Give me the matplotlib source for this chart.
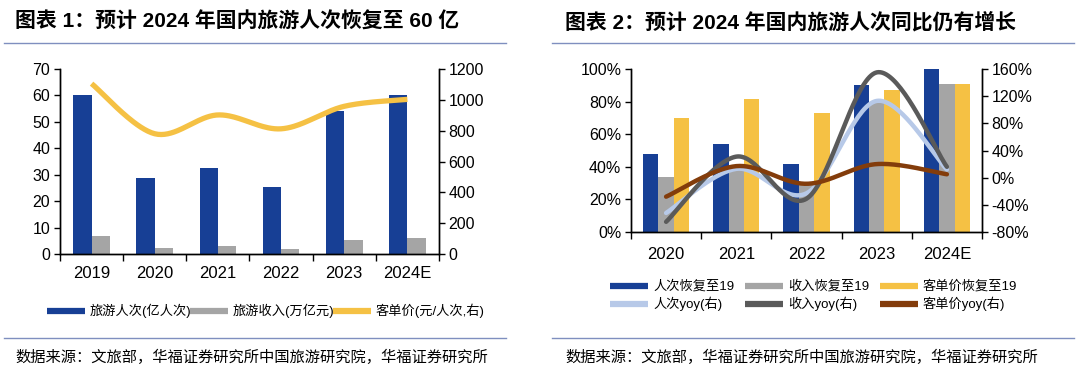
import numpy as np
import matplotlib
matplotlib.use("Agg")
import matplotlib.pyplot as plt
from matplotlib.lines import Line2D

plt.rcParams['font.family'] = ['Liberation Sans', 'Noto Sans CJK SC', 'DejaVu Sans']

# ---------------- data ----------------
years1 = ["2019", "2020", "2021", "2022", "2023", "2024E"]
trips = [60.1, 28.8, 32.5, 25.3, 54.1, 60.1]          # 旅游人次(亿人次)
revenue = [6.7, 2.2, 2.9, 2.0, 5.3, 6.0]               # 旅游收入(万亿元)
spend = [1105, 780, 902, 812, 958, 1003]               # 客单价(元/人次)

years2 = ["2020", "2021", "2022", "2023", "2024E"]
trips_rec = [48, 54, 42, 90, 100]        # 人次恢复至19 (%)
rev_rec = [33.5, 40, 30, 79, 90.5]       # 收入恢复至19 (%)
spend_rec = [70, 81.5, 73, 87, 90.5]     # 客单价恢复至19 (%)
trips_yoy = [-52, 13, -23, 113, 12]      # 人次yoy (%)
rev_yoy = [-65, 31, -31, 155, 16]        # 收入yoy (%)
spend_yoy = [-28, 17, -9, 20, 5]         # 客单价yoy (%)

BLUE = "#173F95"
GRAY = "#A5A5A5"
YELLOW = "#F5C144"
LBLUE = "#B7C9E8"
DGRAY = "#5A5A5A"
BROWN = "#833C0B"
RULE = "#7F8FBF"


def smooth(x, y, n=40):
    """Catmull-Rom spline through points (like Excel smoothed line)."""
    x = np.asarray(x, float)
    y = np.asarray(y, float)
    px = np.concatenate([[x[0]], x, [x[-1]]])
    py = np.concatenate([[y[0]], y, [y[-1]]])
    xs, ys = [], []
    for i in range(1, len(px) - 2):
        p0, p1, p2, p3 = px[i - 1], px[i], px[i + 1], px[i + 2]
        q0, q1, q2, q3 = py[i - 1], py[i], py[i + 1], py[i + 2]
        c1x, c1y = p1 + (p2 - p0) / 6, q1 + (q2 - q0) / 6
        c2x, c2y = p2 - (p3 - p1) / 6, q2 - (q3 - q1) / 6
        t = np.linspace(0, 1, n)
        b0 = (1 - t) ** 3
        b1 = 3 * (1 - t) ** 2 * t
        b2 = 3 * (1 - t) * t ** 2
        b3 = t ** 3
        xs.append(b0 * p1 + b1 * c1x + b2 * c2x + b3 * p2)
        ys.append(b0 * q1 + b1 * c1y + b2 * c2y + b3 * q2)
    return np.concatenate(xs), np.concatenate(ys)


W, H = 1080, 377
fig = plt.figure(figsize=(10.8, 3.77), dpi=100)


def fx(px):
    return px / W


def fy(py):
    return 1 - py / H


def style_axes(ax, ax2, xpad=8):
    ax.spines['top'].set_visible(False)
    ax2.spines['top'].set_visible(False)
    for a in (ax, ax2):
        for s in a.spines.values():
            s.set_linewidth(1.0)
            s.set_color('black')
    ax.tick_params(axis='y', direction='out', length=4, width=1, labelsize=11.5, pad=3)
    ax2.tick_params(axis='y', direction='out', length=4, width=1, labelsize=11.5, pad=3)
    ax.tick_params(axis='x', which='major', length=0, labelsize=12, pad=xpad)
    ax.tick_params(axis='x', which='minor', direction='out', length=5, width=1)


# ---------------- chart 1 ----------------
fig.text(fx(15), fy(22), "图表 1：预计 2024 年国内旅游人次恢复至 60 亿", fontsize=15,
         fontweight='bold', va='center', ha='left')
fig.add_artist(Line2D([fx(4), fx(506)], [fy(43), fy(43)], color=RULE, lw=1))

ax1 = fig.add_axes([fx(60), fy(254), fx(379), (254 - 69) / H])
x1 = np.arange(len(years1))
bw = 0.29
ax1.bar(x1 - bw / 2, trips, width=bw, color=BLUE, zorder=2)
ax1.bar(x1 + bw / 2, revenue, width=bw, color=GRAY, zorder=2)
ax1.set_ylim(0, 70)
ax1.set_yticks(range(0, 71, 10))
ax1.set_xlim(-0.5, len(years1) - 0.5)
ax1.set_xticks(x1)
ax1.set_xticklabels(years1)
ax1.set_xticks(np.arange(-0.5, len(years1), 1), minor=True)
ax1b = ax1.twinx()
sx, sy = smooth(x1, spend)
ax1b.plot(sx, sy, color=YELLOW, lw=3.8, solid_capstyle='butt', zorder=3)
ax1b.set_ylim(0, 1200)
ax1b.set_yticks(range(0, 1201, 200))
style_axes(ax1, ax1b, xpad=9)

# legend 1
leg1 = [(47, BLUE, "旅游人次(亿人次)"), (190, GRAY, "旅游收入(万亿元)"),
        (333, YELLOW, "客单价(元/人次,右)")]
for x0, c, lab in leg1:
    fig.add_artist(Line2D([fx(x0), fx(x0 + 38)], [fy(311), fy(311)], color=c, lw=4.5,
                          solid_capstyle='butt'))
    fig.text(fx(x0 + 43), fy(311), lab, fontsize=9.5, va='center', ha='left')

fig.add_artist(Line2D([fx(4), fx(506)], [fy(338), fy(338)], color=RULE, lw=1))
fig.text(fx(15), fy(357), "数据来源：文旅部，华福证券研究所中国旅游研究院，华福证券研究所",
         fontsize=11, va='center', ha='left', family=['Noto Sans CJK SC'])

# ---------------- chart 2 ----------------
fig.text(fx(565), fy(22), "图表 2：预计 2024 年国内旅游人次同比仍有增长", fontsize=15,
         fontweight='bold', va='center', ha='left')
fig.add_artist(Line2D([fx(552), fx(1074)], [fy(43), fy(43)], color=RULE, lw=1))

ax2 = fig.add_axes([fx(631), fy(232), fx(351), (232 - 69) / H])
x2 = np.arange(len(years2))
bw2 = 0.22
ax2.bar(x2 - bw2, trips_rec, width=bw2, color=BLUE, zorder=2)
ax2.bar(x2, rev_rec, width=bw2, color=GRAY, zorder=2)
ax2.bar(x2 + bw2, spend_rec, width=bw2, color=YELLOW, zorder=2)
ax2.set_ylim(0, 100)
ax2.set_yticks(range(0, 101, 20))
ax2.set_yticklabels([f"{v}%" for v in range(0, 101, 20)])
ax2.set_xlim(-0.5, len(years2) - 0.5)
ax2.set_xticks(x2)
ax2.set_xticklabels(years2)
ax2.set_xticks(np.arange(-0.5, len(years2), 1), minor=True)
ax2b = ax2.twinx()
for vals, c in ((trips_yoy, LBLUE), (rev_yoy, DGRAY), (spend_yoy, BROWN)):
    sx, sy = smooth(x2, vals)
    ax2b.plot(sx, sy, color=c, lw=3.2, solid_capstyle='round', zorder=3)
ax2b.set_ylim(-80, 160)
ax2b.set_yticks(range(-80, 161, 40))
ax2b.set_yticklabels([f"{v}%" for v in range(-80, 161, 40)])
style_axes(ax2, ax2b, xpad=11)

leg2 = [(610, 286, BLUE, "人次恢复至19"), (745, 286, GRAY, "收入恢复至19"),
        (880, 286, YELLOW, "客单价恢复至19"),
        (610, 304, LBLUE, "人次yoy(右)"), (745, 304, DGRAY, "收入yoy(右)"),
        (880, 304, BROWN, "客单价yoy(右)")]
for x0, y0, c, lab in leg2:
    fig.add_artist(Line2D([fx(x0), fx(x0 + 38)], [fy(y0), fy(y0)], color=c, lw=4.5,
                          solid_capstyle='butt'))
    fig.text(fx(x0 + 43), fy(y0), lab, fontsize=9.5, va='center', ha='left')

fig.add_artist(Line2D([fx(552), fx(1074)], [fy(338), fy(338)], color=RULE, lw=1))
fig.text(fx(565), fy(357), "数据来源：文旅部，华福证券研究所中国旅游研究院，华福证券研究所",
         fontsize=11, va='center', ha='left', family=['Noto Sans CJK SC'])

fig.savefig("out.png", dpi=100)
